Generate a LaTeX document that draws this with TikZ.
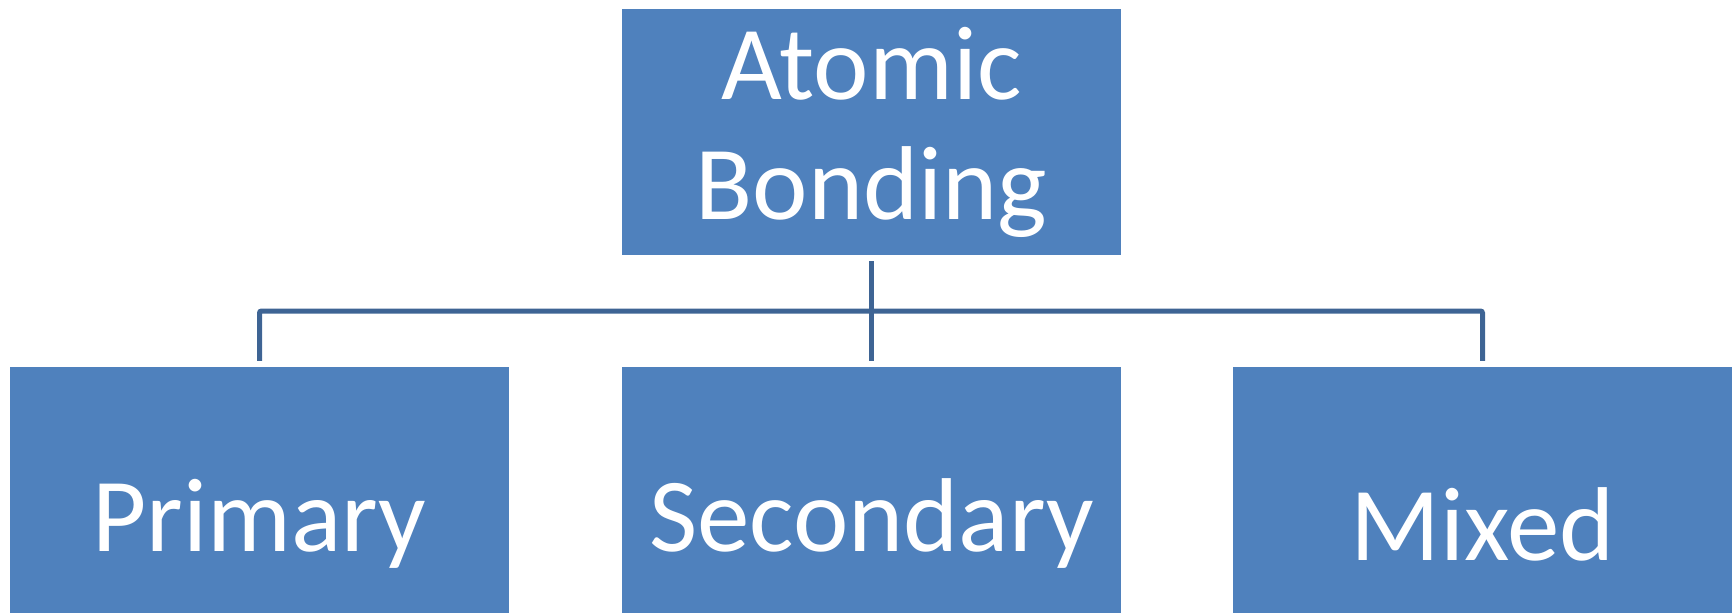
\documentclass[tikz,border=0pt]{standalone}
\usepackage{fontspec}
\setmainfont{Carlito}
\usepackage{xcolor}
\usepackage{tikz}

\definecolor{boxblue}{HTML}{4F81BD}
\definecolor{linkblue}{HTML}{3E6494}

\begin{document}
\begin{tikzpicture}[x=1pt, y=-1pt,
	box/.style={fill=boxblue, draw=none, minimum width=499pt, minimum height=246pt,
		inner sep=0pt, text=white, align=center,
		font=\fontsize{105}{120}\selectfont},
	lowbox/.style={box, minimum height=314pt},
	link/.style={draw=linkblue, line width=5pt, rounded corners=2pt}]

\useasboundingbox (0,0) rectangle (1735,613);

\node[box] (top) at (871.5,132) {Atomic\\Bonding};

% lower boxes run past the bottom edge
\node[lowbox] (prim) at (259.5,524) {Primary};
\node[lowbox] (sec) at (871.5,524) {Secondary};
\node[lowbox] (mix) at (1482.5,524) {Mixed};

\coordinate (bar) at (871.5,311);

\draw[link] ([yshift=-6pt]top.south) -- ([yshift=6pt]sec.north);
\draw[link] ([yshift=6pt]prim.north) |- (bar) -| ([yshift=6pt]mix.north);

\end{tikzpicture}
\end{document}
